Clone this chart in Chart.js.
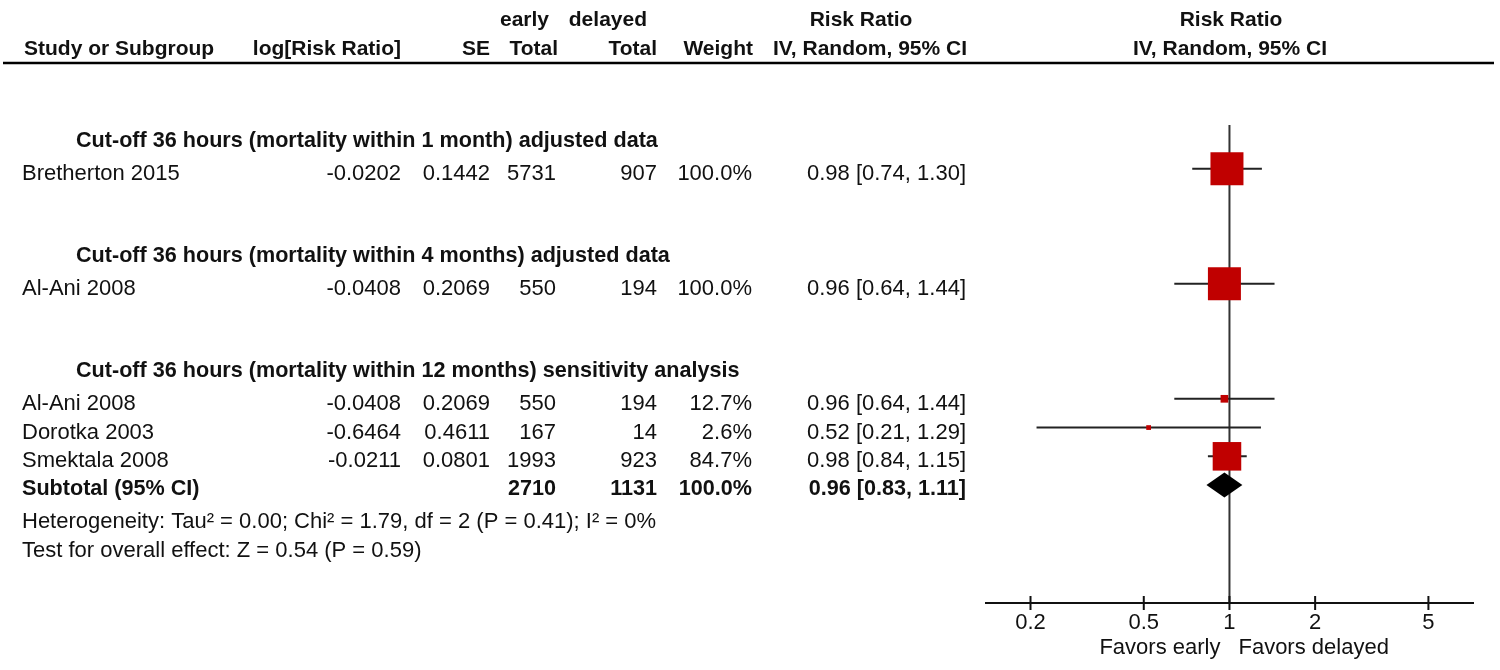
<!DOCTYPE html>
<html>
<head>
<meta charset="utf-8">
<script src="https://cdn.jsdelivr.net/npm/chart.js@4.4.1/dist/chart.umd.min.js"></script>
<style>
    body { margin: 0; background: #fff; }
    div.GraficoForest { width: 1500px; height: 670px; }
</style>
</head>
<body>
<div class="GraficoForest"><canvas id="GraficoForest" width="1500" height="670"></canvas></div>
<script>
var headings = [
    'Cut-off 36 hours (mortality within 1 month) adjusted data',
    'Cut-off 36 hours (mortality within 4 months) adjusted data',
    'Cut-off 36 hours (mortality within 12 months) sensitivity analysis'
];
var studyNames = ['Bretherton 2015', 'Al-Ani 2008', 'Al-Ani 2008', 'Dorotka 2003', 'Smektala 2008'];
var studyGroup = [0, 1, 2, 2, 2];
var logRR = ['-0.0202', '-0.0408', '-0.0408', '-0.6464', '-0.0211'];
var se = ['0.1442', '0.2069', '0.2069', '0.4611', '0.0801'];
var earlyTotal = [5731, 550, 550, 167, 1993];
var delayedTotal = [907, 194, 194, 14, 923];
var weight = [100.0, 100.0, 12.7, 2.6, 84.7];
var rr = [0.98, 0.96, 0.96, 0.52, 0.98];
var ciLow = [0.74, 0.64, 0.64, 0.21, 0.84];
var ciHigh = [1.30, 1.44, 1.44, 1.29, 1.15];

var subtotalGroup = 2;
var subtotalLabel = 'Subtotal (95% CI)';
var subtotalTotals = [2710, 1131];
var subtotalRR = [0.96, 0.83, 1.11];
var footnotes = [
    'Heterogeneity: Tau\u00b2 = 0.00; Chi\u00b2 = 1.79, df = 2 (P = 0.41); I\u00b2 = 0%',
    'Test for overall effect: Z = 0.54 (P = 0.59)'
];

var xTicks = [0.2, 0.5, 1, 2, 5];
var favors = ['Favors early', 'Favors delayed'];

function fmt2(v) { return v.toFixed(2); }
function ciText(a, b, c) { return fmt2(a) + ' [' + fmt2(b) + ', ' + fmt2(c) + ']'; }

// lay the rows out one after another: heading, studies, (subtotal), two blank rows
var rows = [];
var studyRow = [];
var subtotalRow = 0;
for (var g = 0; g < headings.length; g++) {
    rows.push({ tipo: 'heading', texto: headings[g] });
    for (var s = 0; s < studyNames.length; s++) {
        if (studyGroup[s] != g) continue;
        studyRow[s] = rows.length;
        rows.push({ tipo: 'study', i: s });
    }
    if (g == subtotalGroup) {
        subtotalRow = rows.length;
        rows.push({ tipo: 'subtotal' });
        for (var f = 0; f < footnotes.length; f++) rows.push({ tipo: 'foot', texto: footnotes[f] });
    } else {
        rows.push({ tipo: 'blank' });
        rows.push({ tipo: 'blank' });
    }
}

var FONT = '"Liberation Sans", Arial, sans-serif';
var COR = '#111';

function texto(ctx, t, x, y, align, bold, size) {
    ctx.font = (bold ? 'bold ' : '') + (size || 22) + 'px ' + FONT;
    ctx.textAlign = align;
    ctx.textBaseline = 'middle';
    ctx.fillStyle = COR;
    ctx.fillText(t, x, y);
}

var forestPlugin = {
    id: 'forest',
    beforeDatasetsDraw: function (chart) {
        var ctx = chart.ctx, xs = chart.scales.x, a = chart.chartArea;
        var x1 = xs.getPixelForValue(1);
        ctx.save();
        ctx.strokeStyle = '#333';
        ctx.lineWidth = 2;
        ctx.beginPath();
        ctx.moveTo(x1, a.top);
        ctx.lineTo(x1, a.bottom);
        ctx.stroke();
        ctx.restore();
    },
    afterDatasetsDraw: function (chart) {
        var ctx = chart.ctx, xs = chart.scales.x, ys = chart.scales.y, a = chart.chartArea;
        ctx.save();

        // subtotal diamond
        var yd = ys.getPixelForValue(subtotalRow);
        ctx.fillStyle = '#000';
        ctx.beginPath();
        ctx.moveTo(xs.getPixelForValue(subtotalRR[1]), yd);
        ctx.lineTo(xs.getPixelForValue(subtotalRR[0]), yd - 12.5);
        ctx.lineTo(xs.getPixelForValue(subtotalRR[2]), yd);
        ctx.lineTo(xs.getPixelForValue(subtotalRR[0]), yd + 12.5);
        ctx.closePath();
        ctx.fill();

        // x axis
        ctx.strokeStyle = '#111';
        ctx.lineWidth = 2;
        ctx.beginPath();
        ctx.moveTo(a.left, a.bottom);
        ctx.lineTo(a.right, a.bottom);
        xTicks.forEach(function (t) {
            var px = xs.getPixelForValue(t);
            ctx.moveTo(px, a.bottom - 7);
            ctx.lineTo(px, a.bottom + 7);
        });
        ctx.stroke();
        xTicks.forEach(function (t) {
            texto(ctx, String(t), xs.getPixelForValue(t), a.bottom + 20, 'center', false);
        });
        var x1 = xs.getPixelForValue(1);
        texto(ctx, favors[0], x1 - 9, a.bottom + 45, 'right', false);
        texto(ctx, favors[1], x1 + 9, a.bottom + 45, 'left', false);

        // table header
        texto(ctx, 'early', 549, 20, 'right', true, 21);
        texto(ctx, 'delayed', 647, 20, 'right', true, 21);
        texto(ctx, 'Risk Ratio', 861, 20, 'center', true, 21);
        texto(ctx, 'Risk Ratio', 1231, 20, 'center', true, 21);
        texto(ctx, 'Study or Subgroup', 24, 49, 'left', true, 21);
        texto(ctx, 'log[Risk Ratio]', 401, 49, 'right', true, 21);
        texto(ctx, 'SE', 490, 49, 'right', true, 21);
        texto(ctx, 'Total', 558, 49, 'right', true, 21);
        texto(ctx, 'Total', 657, 49, 'right', true, 21);
        texto(ctx, 'Weight', 753, 49, 'right', true, 21);
        texto(ctx, 'IV, Random, 95% CI', 967, 49, 'right', true, 21);
        texto(ctx, 'IV, Random, 95% CI', 1230, 49, 'center', true, 21);
        ctx.strokeStyle = '#000';
        ctx.lineWidth = 2.5;
        ctx.beginPath();
        ctx.moveTo(3, 63);
        ctx.lineTo(1494, 63);
        ctx.stroke();

        // table rows
        rows.forEach(function (r, k) {
            var y = ys.getPixelForValue(k);
            if (r.tipo == 'heading') {
                texto(ctx, r.texto, 76, y + 1.5, 'left', true, 21.6);
            } else if (r.tipo == 'study') {
                var i = r.i;
                y += 5;
                texto(ctx, studyNames[i], 22, y, 'left', false);
                texto(ctx, logRR[i], 401, y, 'right', false);
                texto(ctx, se[i], 490, y, 'right', false);
                texto(ctx, String(earlyTotal[i]), 556, y, 'right', false);
                texto(ctx, String(delayedTotal[i]), 657, y, 'right', false);
                texto(ctx, weight[i].toFixed(1) + '%', 752, y, 'right', false);
                texto(ctx, ciText(rr[i], ciLow[i], ciHigh[i]), 966, y, 'right', false);
            } else if (r.tipo == 'subtotal') {
                y += 3.5;
                texto(ctx, subtotalLabel, 22, y, 'left', true, 21.6);
                texto(ctx, String(subtotalTotals[0]), 556, y, 'right', true, 21.6);
                texto(ctx, String(subtotalTotals[1]), 657, y, 'right', true, 21.6);
                texto(ctx, '100.0%', 752, y, 'right', true, 21.6);
                texto(ctx, ciText(subtotalRR[0], subtotalRR[1], subtotalRR[2]), 966, y, 'right', true, 21.6);
            } else if (r.tipo == 'foot') {
                texto(ctx, r.texto, 22, y + 8, 'left', false);
            }
        });
        ctx.restore();
    }
};

var ctx = document.getElementById('GraficoForest').getContext('2d');

var dsQuadrados = {
    type: 'scatter',
    order: 0,
    data: studyNames.map(function (n, i) { return { x: rr[i], y: studyRow[i] }; }),
    pointStyle: 'rect',
    pointRadius: weight.map(function (w) { return (4 + 0.29 * w) / Math.SQRT2; }),
    pointHoverRadius: weight.map(function (w) { return (4 + 0.29 * w) / Math.SQRT2; }),
    backgroundColor: '#c00000',
    borderWidth: 0
};

var dsIntervalos = studyNames.map(function (n, i) {
    return {
        type: 'line',
        order: 1,
        showLine: true,
        data: [{ x: ciLow[i], y: studyRow[i] }, { x: ciHigh[i], y: studyRow[i] }],
        borderColor: '#222',
        borderWidth: 2,
        pointRadius: 0,
        pointHoverRadius: 0,
        fill: false
    };
});

var grafico = new Chart(ctx, {
    type: 'scatter',
    data: { datasets: [dsQuadrados].concat(dsIntervalos) },
    options: {
        responsive: false,
        animation: false,
        layout: { padding: { left: 985, right: 26, top: 125, bottom: 67 } },
        plugins: { legend: { display: false }, tooltip: { enabled: false }, title: { display: false } },
        scales: {
            x: { type: 'logarithmic', min: 0.1384, max: 7.23, display: false },
            y: { type: 'linear', reverse: true, min: -0.52, max: 16.1, display: false }
        }
    },
    plugins: [forestPlugin]
});
</script>
</body>
</html>
